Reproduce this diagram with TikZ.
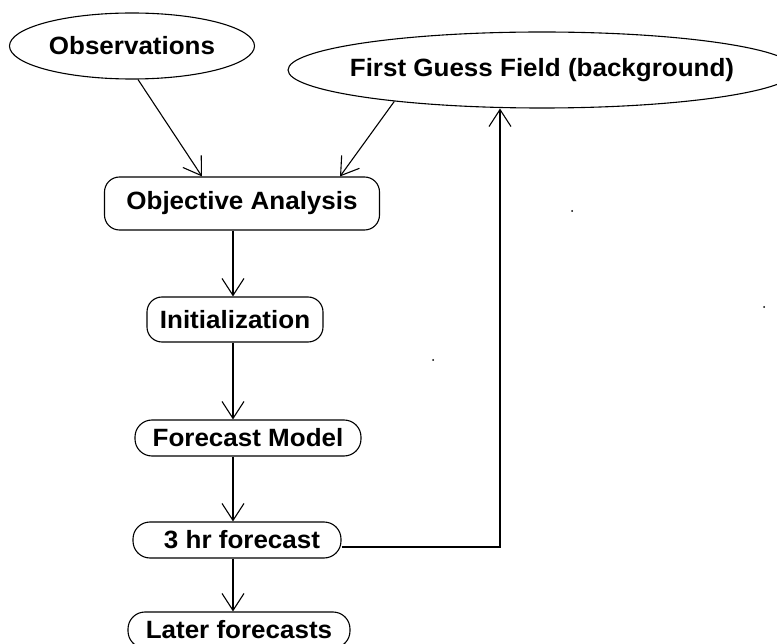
\documentclass[tikz,border=0pt]{standalone}
\usepackage{fontspec}
\setmainfont{Liberation Sans}[FakeStretch=1.04]
\usetikzlibrary{shapes.geometric,arrows.meta}
\begin{document}
\begin{tikzpicture}[x=1pt,y=-1pt,
  lbl/.style={font=\fontsize{25}{29}\selectfont\bfseries},
  ell/.style={draw, line width=1.1pt, ellipse, inner sep=0pt, lbl},
  rbox/.style={draw, line width=1.1pt, rectangle, rounded corners=15pt, inner sep=0pt, lbl},
  arr/.style={-{Straight Barb[length=17pt,width=22pt]}, line width=1.1pt}]
\useasboundingbox (0,0) rectangle (777,644);
\coordinate (lx) at (233,0);
\node[ell, minimum width=245pt, minimum height=66pt] (obs) at (132,46) {Observations};
\node[ell, minimum width=508pt, minimum height=76pt, label={[lbl]center:First Guess Field (background)}] (fg) at (542,70) {};
\node[rbox, minimum width=275pt, minimum height=53pt] (oa) at (242,203.5) {Objective Analysis};
\node[rbox, minimum width=176pt, minimum height=45pt] (init) at (235,319.5) {Initialization};
\node[rbox, minimum width=226pt, minimum height=36pt, rounded corners=17pt] (fm) at (248,438) {Forecast Model};
\node[rbox, minimum width=208pt, minimum height=36pt, rounded corners=17pt] (th) at (237,540) {\hspace*{10pt}3 hr forecast};
\node[rbox, minimum width=222pt, minimum height=36pt, rounded corners=17pt] (lf) at (239,630) {Later forecasts};
\draw[arr] ([xshift=6pt]obs.south) -- ([xshift=-40pt]oa.north);
\draw[arr] (fg.192) -- ([xshift=98pt]oa.north);
\draw[arr] (oa.south -| lx) -- (init.north -| lx);
\draw[arr] (init.south -| lx) -- (fm.north -| lx);
\draw[arr] (fm.south -| lx) -- (th.north -| lx);
\draw[arr] (th.south -| lx) -- (lf.north -| lx);
\draw[arr] ([yshift=-7pt]th.east) -| ([xshift=-42pt]fg.south);
\fill (572,211) circle (1pt);
\fill (764,307) circle (1pt);
\fill (433,360) circle (1pt);
\end{tikzpicture}
\end{document}
